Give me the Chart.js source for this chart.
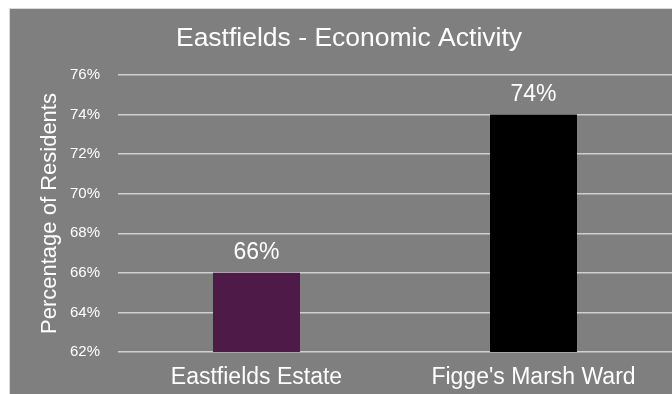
<!DOCTYPE html>
<html>
<head>
<meta charset="utf-8">
<script src="https://cdn.jsdelivr.net/npm/chart.js@4.4.1/dist/chart.umd.min.js"></script>
<style>
  html, body { margin: 0; padding: 0; background: #ffffff; }
  #wrap {
    position: absolute; left: 9px; top: 8px;
    width: 662px; height: 385px;
    border-top: 1px solid #d9d9d9; border-left: 1px solid #d9d9d9;
    background: #7f7f7f;
  }
  canvas { display: block; }
</style>
</head>
<body>
<div id="wrap"><canvas id="chart" width="662" height="385"></canvas></div>
<script>
// Share of residents who are economically active
const categories = ['Eastfields Estate', "Figge's Marsh Ward"];
const activityPct = [66, 74];
const barColors = ['#4e1a47', '#000000'];
const yMin = 62;
const yMax = 76;
const yStep = 2;

const FONT = "'Liberation Sans', Arial, Helvetica, sans-serif";

// value labels sitting above each bar
const barLabels = {
    id: 'barLabels',
    afterDatasetsDraw(chart) {
        const { ctx } = chart;
        const meta = chart.getDatasetMeta(0);
        ctx.save();
        ctx.fillStyle = '#ffffff';
        ctx.font = `23px ${FONT}`;
        ctx.textAlign = 'center';
        ctx.textBaseline = 'middle';
        meta.data.forEach((bar, i) => {
            ctx.fillText(activityPct[i] + '%', bar.x, bar.y - 20);
        });
        ctx.restore();
    }
};

new Chart(document.getElementById('chart'), {
    type: 'bar',
    data: {
        labels: categories,
        datasets: [{
            data: activityPct,
            backgroundColor: barColors,
            borderWidth: 0,
            categoryPercentage: 1,
            barPercentage: 0.314
        }]
    },
    options: {
        responsive: false,
        animation: false,
        // left padding nudges the title right; the y axis width below makes up for it
        layout: { padding: { left: 16 } },
        plugins: {
            legend: { display: false },
            tooltip: { enabled: false },
            title: {
                display: true,
                text: 'Eastfields - Economic Activity',
                color: '#ffffff',
                font: { family: FONT, size: 26.5, weight: 'normal' },
                padding: { top: 14, bottom: 20.2 }
            }
        },
        scales: {
            x: {
                grid: { display: false, drawTicks: false },
                border: { display: false },
                ticks: {
                    color: '#ffffff',
                    font: { family: FONT, size: 23 },
                    padding: 12,
                    maxRotation: 0
                },
                afterFit(scale) { scale.height = 42; }
            },
            y: {
                min: yMin,
                max: yMax,
                grid: { color: '#d0d0d0', lineWidth: 1.5, drawTicks: false },
                border: { display: false },
                ticks: {
                    stepSize: yStep,
                    color: '#ffffff',
                    font: { family: FONT, size: 15 },
                    padding: 18,
                    callback: v => v + '%'
                },
                title: {
                    display: true,
                    text: 'Percentage of Residents',
                    color: '#ffffff',
                    font: { family: FONT, size: 22 },
                    padding: { top: 11, bottom: 0 }
                },
                afterFit(scale) { scale.width = 92; }
            }
        }
    },
    plugins: [barLabels]
});
</script>
</body>
</html>
